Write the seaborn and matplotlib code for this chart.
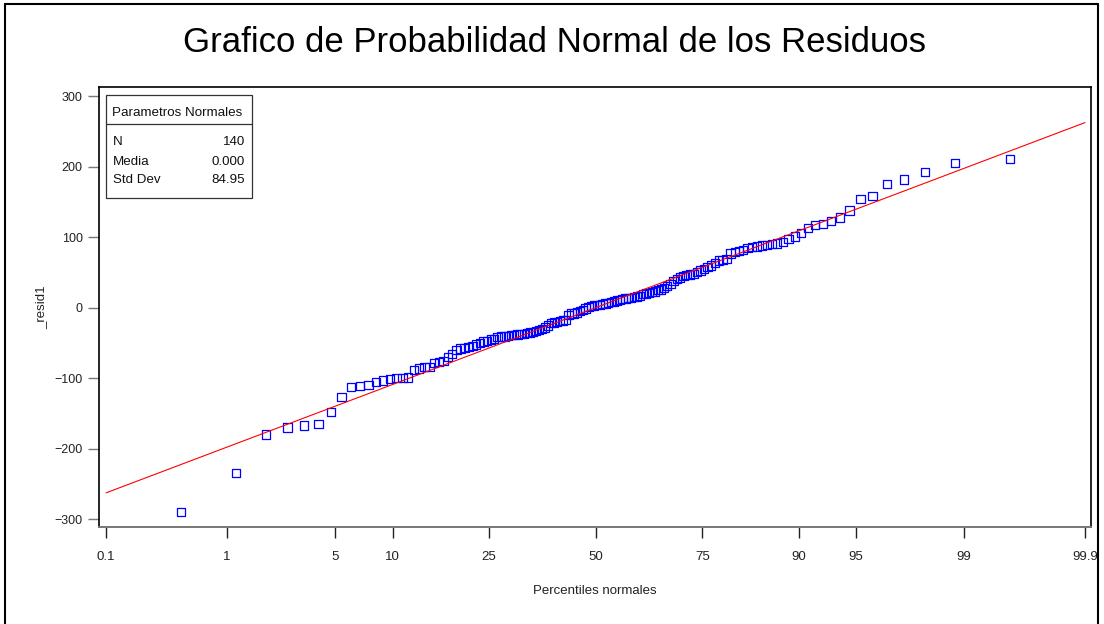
import matplotlib
matplotlib.use("Agg")
import matplotlib.pyplot as plt
from matplotlib.patches import Rectangle
from matplotlib.lines import Line2D
from statistics import NormalDist
import numpy as np
import pandas as pd
import seaborn as sns

# Sorted residuals of the fitted model (n = 140)
residuals = [
    -290, -234, -180, -170, -167, -165, -148, -127, -112, -111,
    -110, -105, -103, -101, -100, -100, -99, -88, -86, -84,
    -84, -78, -77, -76, -70, -66, -60, -58, -57, -56,
    -54, -52, -50, -48, -47, -45, -44, -42, -41, -41,
    -40, -39, -39, -38, -37, -37, -36, -35, -34, -33,
    -32, -30, -28, -25, -22, -21, -20, -19, -18, -17,
    -10, -8, -8, -7, -5, -3, -1, 1, 2, 3,
    4, 4, 5, 6, 7, 8, 9, 10, 11, 12,
    13, 14, 14, 15, 16, 17, 19, 20, 21, 22,
    23, 25, 26, 28, 31, 34, 38, 41, 43, 45,
    46, 47, 48, 51, 53, 55, 58, 60, 63, 67,
    68, 69, 77, 79, 80, 82, 85, 86, 87, 88,
    89, 90, 91, 93, 97, 101, 106, 113, 117, 119,
    123, 128, 138, 154, 158, 175, 182, 192, 205, 211,
]

# Normal parameters shown in the inset table
param_n = 140
param_mean = 0.000
param_std = 84.95

# Percentile ticks on the probability axis
pct_ticks = [0.1, 1, 5, 10, 25, 50, 75, 90, 95, 99, 99.9]
pct_labels = ["0.1", "1", "5", "10", "25", "50", "75", "90", "95", "99", "99.9"]
y_ticks = [-300, -200, -100, 0, 100, 200, 300]

sns.set_style("ticks")
plt.rcParams["font.family"] = ["Liberation Sans", "DejaVu Sans"]

nd = NormalDist()
n = len(residuals)
# Blom plotting positions mapped to standard normal quantiles
z = [nd.inv_cdf((i - 0.375) / (n + 0.25)) for i in range(1, n + 1)]
df = pd.DataFrame({"z": z, "resid": residuals})

z_lo, z_hi = nd.inv_cdf(0.001), nd.inv_cdf(0.999)
ref = pd.DataFrame({"z": [z_lo, z_hi],
                    "fit": [param_mean + param_std * z_lo, param_mean + param_std * z_hi]})

fig = plt.figure(figsize=(11.04, 6.24), dpi=100)
ax = fig.add_axes([0.0901, 0.1554, 0.8981, 0.7052])

sns.scatterplot(data=df, x="z", y="resid", ax=ax, marker="s", s=36,
                facecolor="none", edgecolor="#0000ff", linewidth=0.9, zorder=2)
sns.lineplot(data=ref, x="z", y="fit", ax=ax, color="#ff0000", linewidth=0.8, zorder=3)

ax.set_xlim(-3.132, 3.128)
ax.set_ylim(-311, 313)
ax.set_xticks([nd.inv_cdf(p / 100) for p in pct_ticks])
ax.set_xticklabels(pct_labels)
ax.set_yticks(y_ticks)
ax.set_yticklabels([f"{v}".replace("-", "\u2212") for v in y_ticks])

ax.tick_params(axis="x", direction="out", length=8, width=1.0, color="#222222",
               pad=9, labelsize=9.5, labelcolor="#222222")
ax.tick_params(axis="y", direction="out", length=8, width=1.0, color="#777777",
               pad=4, labelsize=9, labelcolor="#222222")

for side in ["left", "top", "right"]:
    ax.spines[side].set_color("#000000")
    ax.spines[side].set_linewidth(1.2)
ax.spines["bottom"].set_color("#777777")
ax.spines["bottom"].set_linewidth(1.4)

ax.set_xlabel("Percentiles normales", fontsize=9.5, color="#222222")
ax.set_ylabel("_resid1", fontsize=9.5, color="#222222")
ax.xaxis.set_label_coords(0.5, -0.132)
ax.yaxis.set_label_coords(-0.053, 0.5)

# Inset table with the normal parameters
ax.add_patch(Rectangle((0.0066, 0.7477), 0.1472, 0.2341, transform=ax.transAxes,
                       facecolor="white", edgecolor="#333333", linewidth=0.9, zorder=4))
ax.add_line(Line2D([0.0066, 0.1538], [0.9159, 0.9159], transform=ax.transAxes,
                   color="#333333", linewidth=0.9, zorder=5))
box_font = dict(fontsize=9.6, color="#111111", transform=ax.transAxes, zorder=6, va="center")
ax.text(0.0123, 0.9402, "Parametros Normales", ha="left", **box_font)
rows = [("N", f"{param_n}"), ("Media", f"{param_mean:.3f}"), ("Std Dev", f"{param_std:.2f}")]
for (lab, val), yy in zip(rows, [0.8743, 0.8302, 0.7886]):
    ax.text(0.0133, yy, lab, ha="left", **box_font)
    ax.text(0.1467, yy, val, ha="right", **box_font)

fig.text(0.5027, 1 - 42 / 624, "Grafico de Probabilidad Normal de los Residuos",
         ha="center", va="center", fontsize=25, color="#000000")

# Page frame
for xs, ys in [([5 / 1104, 5 / 1104], [0, 1 - 4 / 624]),
               ([5 / 1104, 1098 / 1104], [1 - 4 / 624, 1 - 4 / 624]),
               ([1098 / 1104, 1098 / 1104], [0, 1 - 4 / 624])]:
    fig.add_artist(Line2D(xs, ys, transform=fig.transFigure, color="black", linewidth=1.5))

fig.savefig("out.png", dpi=100)
